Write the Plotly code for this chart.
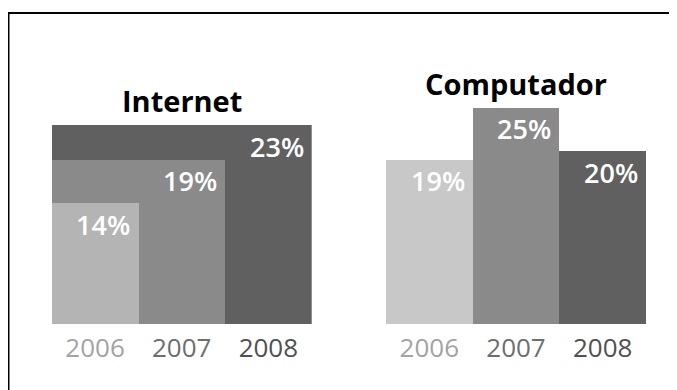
import plotly.graph_objects as go

# ---- data ----
years = ["2006", "2007", "2008"]
internet = [14, 19, 23]
computador = [19, 25, 20]
panel_titles = ["Internet", "Computador"]

# ---- styles ----
bar_colors_left = ["#b4b4b4", "#8a8a8a", "#606060"]
bar_colors_right = ["#c8c8c8", "#8a8a8a", "#606060"]
year_colors = ["#a3a3a3", "#6e6e6e", "#505050"]
FONT = "Open Sans"

# page body has an 8px margin, so the figure is 8px smaller and all
# pixel positions below are relative to that offset
W, H = 669, 382
fig = go.Figure()

# Left panel: nested bars anchored at the left edge (drawn widest first)
for i in reversed(range(len(years))):
    fig.add_trace(go.Bar(
        x=[(i + 1) / 2], y=[internet[i]], width=[i + 1],
        marker=dict(color=bar_colors_left[i], line=dict(width=0)),
        xaxis="x", yaxis="y", showlegend=False, hoverinfo="skip",
    ))

# Right panel: side-by-side bars
fig.add_trace(go.Bar(
    x=[i + 0.5 for i in range(len(years))], y=computador, width=[1] * len(years),
    marker=dict(color=bar_colors_right, line=dict(width=0)),
    xaxis="x2", yaxis="y", showlegend=False, hoverinfo="skip",
))

ticktext = [f"<span style='color:{c}'>{y}</span>" for y, c in zip(years, year_colors)]
axis_common = dict(
    range=[0, 3], showgrid=False, zeroline=False, showline=False,
    tickmode="array", tickvals=[i + 0.5 for i in range(len(years))],
    ticktext=ticktext, ticks="", ticklabelstandoff=5,
    tickfont=dict(family=FONT, size=26), fixedrange=True,
)

y_bottom = 1 - 316.5 / H
y_top = 1 - (316.5 - 30 * 8.64) / H

fig.update_layout(
    width=W, height=H, autosize=False,
    margin=dict(l=0, r=0, t=0, b=0),
    paper_bgcolor="white", plot_bgcolor="white",
    barmode="overlay", bargap=0,
    xaxis=dict(domain=[43.7 / W, 303.7 / W], anchor="y", **axis_common),
    xaxis2=dict(domain=[378 / W, 638 / W], anchor="y", **axis_common),
    yaxis=dict(domain=[y_bottom, y_top], range=[0, 30], visible=False, fixedrange=True),
    showlegend=False,
)

annotations = []
for xref, vals, title, tshift in [("x", internet, panel_titles[0], 4), ("x2", computador, panel_titles[1], 3)]:
    for i, v in enumerate(vals):
        annotations.append(dict(
            x=i + 1, y=v, xref=xref, yref="y", text=f"{v}%", showarrow=False,
            xanchor="right", yanchor="top", xshift=-6, yshift=0,
            font=dict(family=FONT, size=27, color="white", weight=600),
        ))
    annotations.append(dict(
        x=1.5, y=max(vals), xref=xref, yref="y", text=f"<b>{title}</b>", showarrow=False,
        xanchor="center", yanchor="bottom", yshift=tshift,
        font=dict(family=FONT, size=29, color="black"),
    ))
fig.update_layout(annotations=annotations)

# frame lines (top and left)
fig.add_shape(type="line", xref="paper", yref="paper", x0=0, x1=1, y0=1 - 5 / H, y1=1 - 5 / H,
              line=dict(color="black", width=2))
fig.add_shape(type="line", xref="paper", yref="paper", x0=0.5 / W, x1=0.5 / W, y0=0, y1=1 - 5 / H,
              line=dict(color="black", width=2))

fig.write_html("out.html")
